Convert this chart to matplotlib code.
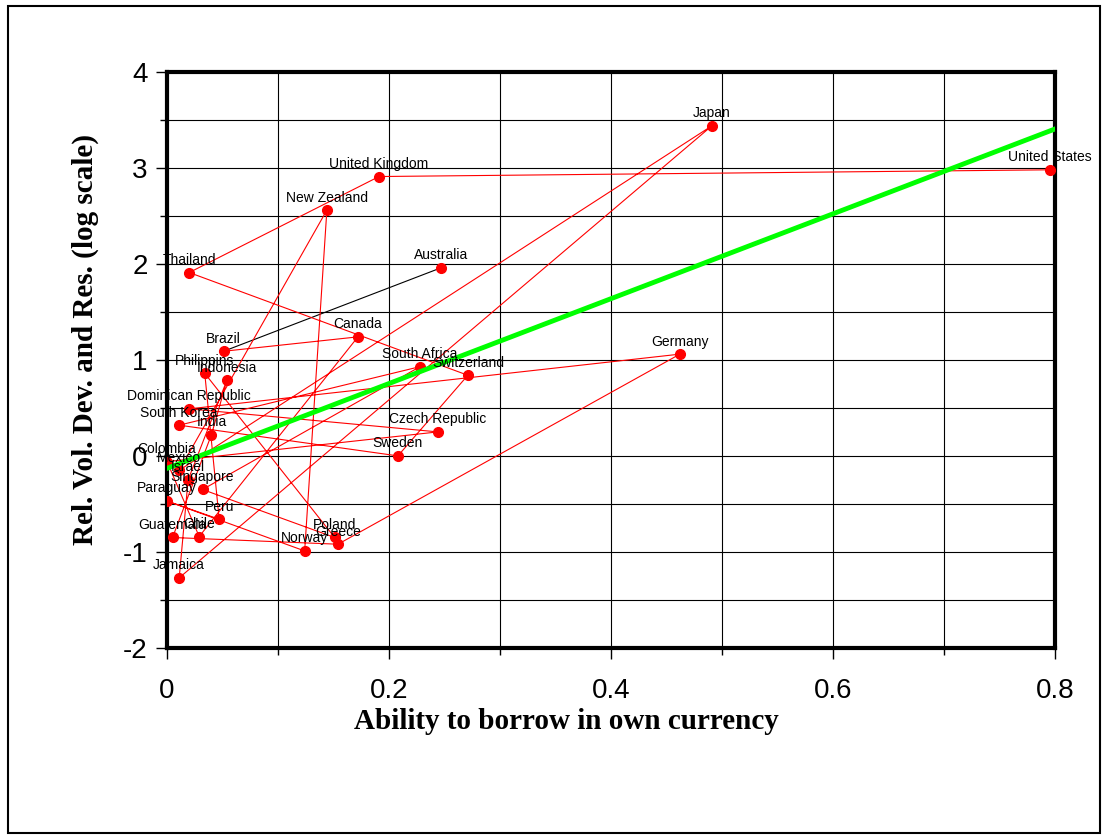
import matplotlib.pyplot as plt
from matplotlib.ticker import MultipleLocator
from matplotlib.patches import Rectangle

plt.rcParams['axes.unicode_minus'] = False

# --- DATA (alphabetical order, joined in that order) ---
countries = ["Australia", "Brazil", "Canada", "Chile", "Colombia", "Czech Republic",
             "Dominican Republic", "Germany", "Greece", "Guatemala", "India", "Indonesia",
             "Israel", "Jamaica", "Japan", "Mexico", "New Zealand", "Norway", "Paraguay",
             "Peru", "Philippins", "Poland", "Singapore", "South Africa", "South Korea",
             "Sweden", "Switzerland", "Thailand", "United Kingdom", "United States"]
borrow = [0.247, 0.051, 0.172, 0.029, 0.000, 0.244,
          0.020, 0.462, 0.154, 0.005, 0.040, 0.054,
          0.019, 0.011, 0.491, 0.011, 0.144, 0.124, 0.000,
          0.047, 0.034, 0.151, 0.032, 0.228, 0.011,
          0.208, 0.271, 0.020, 0.191, 0.795]
rel_vol = [1.96, 1.09, 1.24, -0.84, -0.06, 0.25,
           0.49, 1.06, -0.92, -0.85, 0.22, 0.79,
           -0.25, -1.27, 3.44, -0.15, 2.56, -0.99, -0.47,
           -0.66, 0.86, -0.85, -0.35, 0.93, 0.32,
           0.00, 0.84, 1.91, 2.91, 2.98]

# fitted line
fit_intercept = -0.13
fit_slope = 4.42
fit_range = [0.0, 0.8]

fig = plt.figure(figsize=(11.06, 8.36), dpi=100)
ax = fig.add_axes([0.151, 0.225, 0.803, 0.689])

# border around the whole figure
fig.patches.append(Rectangle((0.007, 0.003), 0.988, 0.99, transform=fig.transFigure,
                             fill=False, edgecolor='black', linewidth=1.5))

# first segment black, the rest red
ax.plot(borrow[:2], rel_vol[:2], color='black', linewidth=0.8, zorder=3)
ax.plot(borrow[1:], rel_vol[1:], color='red', linewidth=0.8, zorder=3)
ax.plot(borrow, rel_vol, linestyle='none', marker='o', markersize=7,
        color='red', zorder=4)

fit_y = [fit_intercept + fit_slope * v for v in fit_range]
ax.plot(fit_range, fit_y, color='#00ff00', linewidth=3.5, zorder=5)

for name, xv, yv in zip(countries, borrow, rel_vol):
    ax.annotate(name, (xv, yv), xytext=(0, 4), textcoords='offset points',
                ha='center', va='bottom', fontsize=10, family='Liberation Sans',
                zorder=6)

ax.set_xlim(0, 0.8)
ax.set_ylim(-2, 4)
ax.xaxis.set_major_locator(MultipleLocator(0.2))
ax.xaxis.set_minor_locator(MultipleLocator(0.1))
ax.yaxis.set_major_locator(MultipleLocator(1))
ax.yaxis.set_minor_locator(MultipleLocator(0.5))
ax.xaxis.set_major_formatter(plt.FuncFormatter(lambda v, p: f'{v:g}'))
ax.yaxis.set_major_formatter(plt.FuncFormatter(lambda v, p: f'{v:g}'))
ax.grid(True, which='both', color='black', linewidth=0.8)
ax.set_axisbelow(True)

ax.tick_params(which='major', direction='out', length=8, width=1, labelsize=20)
ax.tick_params(axis='x', which='major', pad=14)
ax.tick_params(axis='y', which='major', pad=6)
ax.tick_params(which='minor', direction='out', length=5, width=1)
for lab in ax.get_xticklabels() + ax.get_yticklabels():
    lab.set_family('Liberation Sans')

for s in ax.spines.values():
    s.set_linewidth(3)

ax.set_xlabel('Ability to borrow in own currency', fontsize=21, fontweight='bold',
              family='Liberation Serif')
ax.set_ylabel('Rel. Vol. Dev. and Res. (log scale)', fontsize=21, fontweight='bold',
              family='Liberation Serif')
ax.xaxis.set_label_coords(0.45, -0.104)
ax.yaxis.set_label_coords(-0.077, 0.535)

plt.savefig('out.png', dpi=100)
